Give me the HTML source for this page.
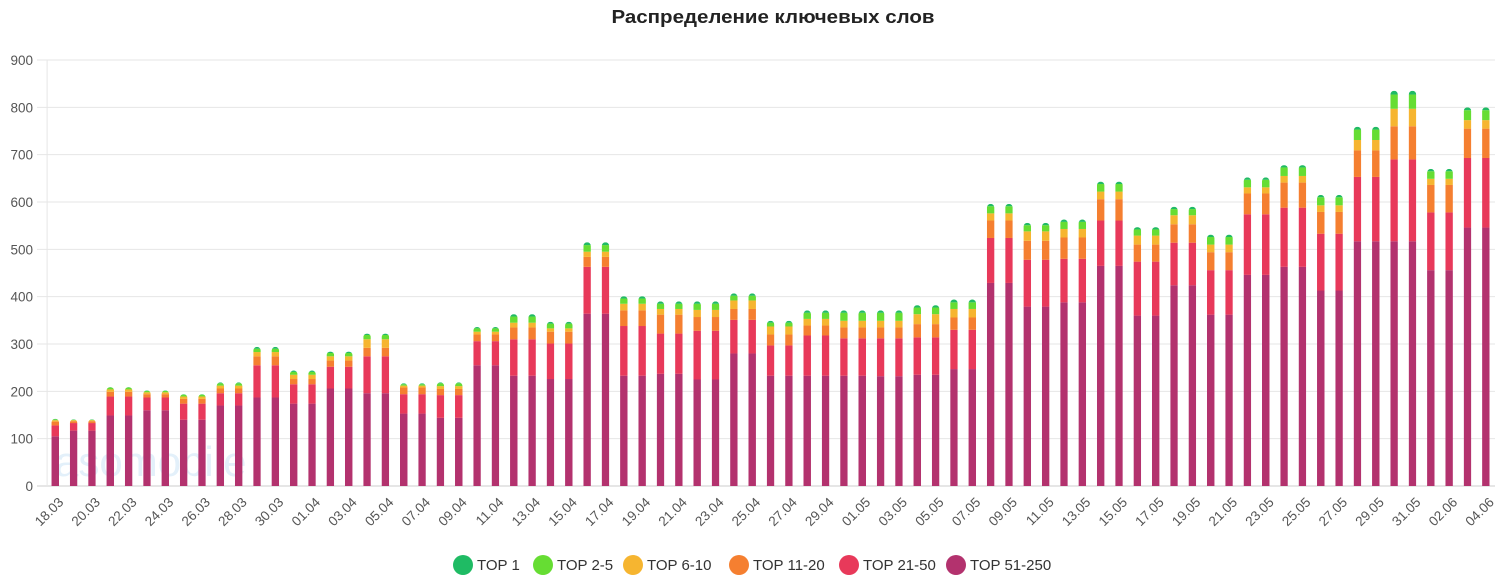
<!DOCTYPE html>
<html><head><meta charset="utf-8">
<style>
html,body{margin:0;padding:0;background:#fff;}
body{width:1500px;height:581px;overflow:hidden;font-family:"Liberation Sans",sans-serif;}
svg text{font-family:"Liberation Sans",sans-serif;}
</style></head>
<body>
<svg id="chart" width="1500" height="581" viewBox="0 0 1500 581">
<text x="773" y="23" text-anchor="middle" font-size="18" font-weight="bold" fill="#222" textLength="323" lengthAdjust="spacingAndGlyphs">Распределение ключевых слов</text>
<text x="55" y="476" font-size="42" fill="#e3f0fa">asomobile</text>
<g id="grid"></g>
<g id="bars"></g>
<g id="xlabels"></g>
<g id="legend"></g>
</svg>
<script>
const dates = ["18.03","19.03","20.03","21.03","22.03","23.03","24.03","25.03","26.03","27.03","28.03","29.03","30.03","31.03",
"01.04","02.04","03.04","04.04","05.04","06.04","07.04","08.04","09.04","10.04","11.04","12.04","13.04","14.04","15.04","16.04","17.04","18.04","19.04","20.04","21.04","22.04","23.04","24.04","25.04","26.04","27.04","28.04","29.04","30.04",
"01.05","02.05","03.05","04.05","05.05","06.05","07.05","08.05","09.05","10.05","11.05","12.05","13.05","14.05","15.05","16.05","17.05","18.05","19.05","20.05","21.05","22.05","23.05","24.05","25.05","26.05","27.05","28.05","29.05","30.05","31.05",
"01.06","02.06","03.06","04.06"];
const seriesNames = ["TOP 51-250","TOP 21-50","TOP 11-20","TOP 6-10","TOP 2-5","TOP 1"];
const seriesColors = ["#b3326e","#e8395a","#f57f30","#f6b530","#66dd33","#1fbb64"];
const top51_250 = [105,117,117,149,149,160,160,140,140,170,170,187,187,174,174,206,206,196,196,153,153,144,144,255,255,233,233,226,226,364,364,233,233,237,237,225,225,280,280,233,233,233,233,233,233,232,232,235,235,247,247,429,429,379,379,388,388,465,465,360,360,424,424,362,362,446,446,463,463,413,413,517,517,517,517,456,456,546,546];
const top21_50 = [23,16,16,40,40,27,27,34,34,26,26,68,68,41,41,46,46,78,78,41,41,48,48,51,51,77,77,75,75,99,99,105,105,85,85,103,103,71,71,64,64,85,85,79,79,80,80,79,79,83,83,95,95,99,99,92,92,96,96,114,114,90,90,94,94,128,128,125,125,120,120,136,136,173,173,122,122,147,147];
const top11_20 = [8,4,4,10,10,7,7,10,10,10,10,19,19,11,11,13,13,18,18,14,14,13,13,14,14,25,25,25,25,21,21,33,33,40,40,29,29,23,23,23,23,21,21,23,23,23,23,28,28,26,26,37,37,40,40,45,45,45,45,36,36,39,39,38,38,44,44,53,53,46,46,56,56,70,70,58,58,62,62];
const top6_10 = [3,2,2,5,5,4,4,5,5,6,6,9,9,9,9,9,9,18,18,4,4,6,6,6,6,10,10,7,7,11,11,14,14,12,12,15,15,18,18,17,17,14,14,14,14,14,14,21,21,18,18,15,15,20,20,18,18,16,16,19,19,19,19,16,16,13,13,14,14,14,14,22,22,37,37,13,13,18,18];
const top2_5 = [2,1,1,4,4,3,3,4,4,5,5,7,7,6,6,7,7,9,9,3,3,6,6,7,7,13,13,10,10,14,14,11,11,11,11,13,13,10,10,8,8,13,13,17,17,17,17,14,14,14,14,15,15,13,13,15,15,16,16,13,13,13,13,16,16,16,16,18,18,17,17,22,22,30,30,16,16,21,21];
const top1 = [1,1,1,1,1,1,1,1,1,2,2,4,4,3,3,3,3,3,3,2,2,2,2,3,3,5,5,4,4,6,6,5,5,5,5,5,5,5,5,4,4,5,5,5,5,5,5,5,5,6,6,5,5,5,5,5,5,5,5,5,5,5,5,5,5,5,5,5,5,5,5,6,6,8,8,5,5,6,6];
const yTicks = [0,100,200,300,400,500,600,700,800,900];
const allSeries = [top51_250, top21_50, top11_20, top6_10, top2_5, top1];

const NS = "http://www.w3.org/2000/svg";
const svg = document.getElementById('chart');
const plotL = 46.1, plotR = 1495, y0 = 486, y900 = 60, yMax = 900;
const band = (plotR - plotL) / dates.length;
const barW = 7.5;
function xCenter(i){ return plotL + band * (i + 0.5); }
function yScale(v){ return y0 - (v / yMax) * (y0 - y900); }
function mk(tag, attrs, parent){ const e = document.createElementNS(NS, tag); for (const k in attrs) e.setAttribute(k, attrs[k]); parent.appendChild(e); return e; }

const grid = document.getElementById('grid');
yTicks.forEach(t => {
  const y = yScale(t);
  const l = mk('line', {x1:37, x2:1495, y1:y, y2:y, stroke: t===0 ? '#ccc' : '#e6e6e6', 'stroke-width':1}, grid);
  
  
  const tx = mk('text', {x:33, y:y+5, 'text-anchor':'end', 'font-size':13.5, fill:'#555'}, grid);
  tx.textContent = t;
  
  
});
const ax = mk('line', {x1:plotL+1, x2:plotL+1, y1:y900, y2:y0, stroke:'#e6e6e6'}, grid);



const defs = mk('defs', {}, svg);
const bars = document.getElementById('bars');
dates.forEach((d, i) => {
  const cx = xCenter(i);
  let total = 0; allSeries.forEach(s => total += s[i]);
  const cp = mk('clipPath', {id:'cp'+i}, defs);
  mk('rect', {x:cx-barW/2, y:yScale(total), width:barW, height:y0-yScale(total)+6, rx:3.75}, cp);
  const g = mk('g', {'clip-path':'url(#cp'+i+')'}, bars);
  
  
  let acc = 0;
  allSeries.forEach((s, si) => {
    const v = s[i];
    const yTop = yScale(acc + v), yBot = yScale(acc);
    const r = mk('rect', {x:cx-barW/2, y:yTop, width:barW, height:Math.max(0, yBot-yTop), fill:seriesColors[si]}, g);
    
    
    acc += v;
  });
});

const xl = document.getElementById('xlabels');
dates.forEach((d, i) => {
  if (i % 2 !== 0) return;
  const cx = xCenter(i) + 9;
  const t = mk('text', {x:cx, y:503, 'text-anchor':'end', 'font-size':13.5, fill:'#555', transform:'rotate(-45 '+cx+' 503)'}, xl);
  t.textContent = d;
  
  
});

const legend = document.getElementById('legend');
const legendX = [463, 543, 633, 739, 849, 956];
const legendOrder = [5,4,3,2,1,0];
legendOrder.forEach((si, k) => {
  const g = mk('g', {}, legend);
  
  
  mk('circle', {cx:legendX[k], cy:565, r:10, fill:seriesColors[si]}, g);
  const t = mk('text', {x:legendX[k]+14, y:570, 'font-size':15, fill:'#333'}, g);
  t.textContent = seriesNames[si];
});
</script>
</body></html>
